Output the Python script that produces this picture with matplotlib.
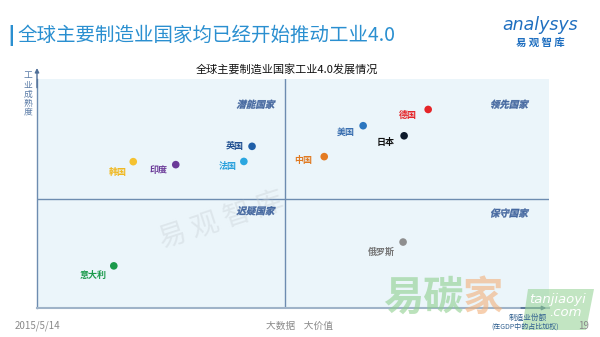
import matplotlib
matplotlib.use("Agg")
import matplotlib.pyplot as plt
from matplotlib.patches import Polygon, PathPatch
from matplotlib.textpath import TextPath
from matplotlib.font_manager import FontProperties
from matplotlib.transforms import Affine2D, IdentityTransform

plt.rcParams['font.family'] = ['Noto Sans CJK SC', 'DejaVu Sans']

# Country positions: manufacturing share (x) vs. industrial maturity (y), 0-100 scale
countries = ['英国', '法国', '韩国', '印度', '中国', '美国', '日本', '德国', '意大利', '俄罗斯']
share = [42.0, 40.4, 18.8, 27.1, 56.1, 63.7, 71.7, 76.4, 15.0, 71.5]
maturity = [70.6, 64.0, 63.9, 62.6, 66.1, 79.6, 75.2, 86.7, 18.4, 28.8]
dot_colors = ['#1f5fa8', '#2aa6e0', '#f5c230', '#6b3a98', '#e47b22', '#2b76c0',
              '#0d1a2c', '#e52428', '#1a9a4a', '#8e8e8e']
label_colors = ['#1f4f90', '#2aa0dc', '#f0b820', '#6b3a98', '#e07a22', '#3a6fb0',
                '#111111', '#e52428', '#1a9a4a', '#777777']
# label offsets in points (right edge of label, vertical shift)
label_dx = [-6, -5, -5, -6, -9, -6, -7, -8, -5, -6]
label_dy = [0, -4, -8, -4, -3, -5, -5, -4, -7, -7]

quadrants = ['潜能国家', '领先国家', '迟疑国家', '保守国家']
quad_x = [46.5, 96.0, 46.5, 96.0]
quad_y = [89.0, 89.0, 42.5, 41.5]

x_split = 48.4
y_split = 47.8

W, H = 600, 337
fig = plt.figure(figsize=(W / 100, H / 100), dpi=100)
fig.patch.set_facecolor('white')

ax = fig.add_axes([37 / W, (H - 308) / H, 512 / W, 229 / H])
ax.set_facecolor('#ebf5fa')
ax.set_xlim(0, 100)
ax.set_ylim(0, 100)
ax.set_xticks([])
ax.set_yticks([])
for s in ['top', 'right']:
    ax.spines[s].set_visible(False)
ax.spines['left'].set_color('#6d8cb0')
ax.spines['left'].set_linewidth(1.0)
ax.spines['bottom'].set_color('#9fb3c8')
ax.spines['bottom'].set_linewidth(1.5)

# quadrant dividers
ax.axvline(x_split, color='#6d8cb0', lw=1.0, zorder=1)
ax.axhline(y_split, color='#6d8cb0', lw=1.0, zorder=1)

# axis arrows
ax.annotate('', xy=(0, 106), xytext=(0, 95),
            arrowprops=dict(arrowstyle='-|>', color='#4f6f98', lw=1.0,
                            mutation_scale=6), annotation_clip=False)
ax.annotate('', xy=(100, 0), xytext=(94, 0),
            arrowprops=dict(arrowstyle='-|>', color='#3f5f88', lw=1.0,
                            mutation_scale=6), annotation_clip=False)

# faint watermark in the middle
ax.text(36, 38, '易 观 智 库', fontsize=20, color='#c8d0d6', alpha=0.4,
        rotation=18, ha='center', va='center', zorder=1)

ax.scatter(share, maturity, s=30, c=dot_colors, zorder=4, linewidths=0)
for name, x, y, c, dx, dy in zip(countries, share, maturity, label_colors, label_dx, label_dy):
    ax.annotate(name, (x, y), xytext=(dx, dy), textcoords='offset points',
                ha='right', va='center', fontsize=6.5, fontweight='bold',
                color=c, zorder=5)

# quadrant names: bold text slanted with a skew transform
qfont = FontProperties(family='Noto Sans CJK SC', weight='bold')
for q, x, y in zip(quadrants, quad_x, quad_y):
    tp = TextPath((0, 0), q, size=9.5, prop=qfont)
    ext = tp.get_extents()
    px, py = ax.transData.transform((x, y))
    tr = (Affine2D().translate(-ext.x1, -(ext.y0 + ext.y1) / 2)
          .skew_deg(14, 0).translate(px, py) + IdentityTransform())
    ax.add_artist(PathPatch(tp, transform=tr, facecolor='#44679f',
                            edgecolor='#44679f', linewidth=0.25, zorder=5))

# chart title
fig.text(287 / W, 1 - 69 / H, '全球主要制造业国家工业4.0发展情况', ha='center',
         va='center', fontsize=8, color='#111111')

# y-axis caption, stacked vertically
fig.text(28 / W, 1 - 94 / H, '工\n业\n成\n熟\n度', ha='center', va='center',
         fontsize=6.3, color='#5a7ba6', linespacing=1.0)

# x-axis caption
fig.text(528 / W, 1 - 318 / H, '制造业份额', ha='center', va='center',
         fontsize=5.5, color='#2f5f8f', zorder=5)
fig.text(525 / W, 1 - 327 / H, '(在GDP中的占比加权)', ha='center', va='center',
         fontsize=5, color='#2f5f8f', zorder=5)

# page heading
fig.text(7 / W, 1 - 35 / H, '|', ha='left', va='center', fontsize=15,
         color='#2a8fd0', family='DejaVu Sans', fontweight='bold')
fig.text(17 / W, 1 - 35 / H, '全球主要制造业国家均已经开始推动工业4.0', ha='left',
         va='center', fontsize=14, color='#2a8fd0')

# logo
fig.text(540 / W, 1 - 25 / H, 'analysys', ha='center', va='center', fontsize=12.5,
         color='#1f6fc0', fontstyle='italic', family='DejaVu Sans')
fig.text(540 / W, 1 - 43 / H, '易 观 智 库', ha='center', va='center', fontsize=7.5,
         color='#1f6fc0', fontweight='bold')

# footer
fig.text(15 / W, 1 - 326 / H, '2015/5/14', ha='left', va='center', fontsize=7,
         color='#8a8a8a')
fig.text(300 / W, 1 - 326 / H, '大数据    大价值', ha='center', va='center',
         fontsize=7, color='#8a8a8a')
fig.text(584 / W, 1 - 326 / H, '19', ha='center', va='center', fontsize=7,
         color='#8a8a8a')

# site watermark, bottom right
fig.text(383 / W, 1 - 298 / H, '易碳', ha='left', va='center', fontsize=29,
         color='#8fcf8f', alpha=0.6, fontweight='bold', zorder=1)
fig.text(462 / W, 1 - 298 / H, '家', ha='left', va='center', fontsize=29,
         color='#f2b07a', alpha=0.6, fontweight='bold', zorder=1)
badge = Polygon([(522 / W, 1 - 330 / H), (528 / W, 1 - 289 / H),
                 (594 / W, 1 - 289 / H), (586 / W, 1 - 330 / H)],
                closed=True, transform=fig.transFigure, facecolor='#9ad49a',
                alpha=0.6, edgecolor='none', zorder=1)
fig.patches.append(badge)
fig.text(558 / W, 1 - 300 / H, 'tanjiaoyi', ha='center', va='center', fontsize=9.5,
         color='white', fontstyle='italic', family='DejaVu Sans', zorder=1)
fig.text(565 / W, 1 - 313 / H, '.com', ha='center', va='center', fontsize=9.5,
         color='white', fontstyle='italic', family='DejaVu Sans', zorder=1)

fig.savefig('out.png', dpi=100, facecolor='white')
